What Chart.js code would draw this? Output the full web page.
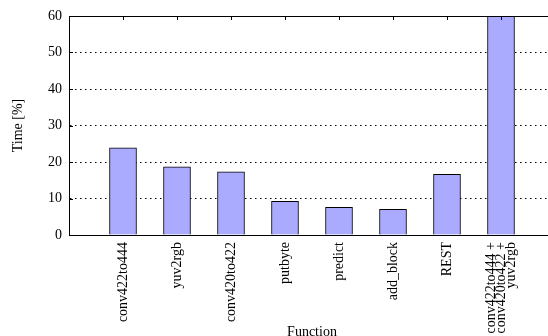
<!DOCTYPE html>
<html>
<head>
<meta charset="utf-8">
<script src="https://cdn.jsdelivr.net/npm/chart.js@4.4.1/dist/chart.umd.min.js"></script>
<style>
  html, body { margin: 0; padding: 0; overflow: hidden; background: #fff; }
  #wrap { width: 556px; height: 336px; }
</style>
</head>
<body>
<div id="wrap"><canvas id="mycanvas" width="556" height="336"></canvas></div>
<script>
// profile: share of run time per function
var functions = ['conv422to444', 'yuv2rgb', 'conv420to422', 'putbyte', 'predict', 'add_block', 'REST',
                 ['conv422to444 +', 'conv420to422 +', 'yuv2rgb']];
var timePct = [23.9, 18.7, 17.3, 9.2, 7.6, 7.0, 16.6, 60];
var yMin = 0, yMax = 60, yStep = 10;

// empty slot on each side so the bars sit at 1..8 of a 0..9 axis
var labels = [''].concat(functions, ['']);
var values = [null].concat(timePct, [null]);

var serif = { family: '"Liberation Serif", "Times New Roman", serif', size: 14 };
var labelLine = 10;

// top border plus the small inward tick marks
var frame = {
    id: 'frame',
    afterDatasetsDraw: function (chart) {
        var a = chart.chartArea, ctx = chart.ctx;
        var x = chart.scales.x, y = chart.scales.y;
        ctx.save();
        ctx.strokeStyle = '#000';
        ctx.lineWidth = 1;
        ctx.beginPath();
        ctx.moveTo(a.left, a.top + 0.5);
        ctx.lineTo(a.right, a.top + 0.5);
        ctx.moveTo(a.right - 0.5, a.top);
        ctx.lineTo(a.right - 0.5, a.bottom);
        for (var i = 1; i <= functions.length; i++) {
            var px = Math.round(x.getPixelForValue(i)) + 0.5;
            ctx.moveTo(px, a.top);
            ctx.lineTo(px, a.top + 4);
        }
        for (var v = yMin + yStep; v < yMax; v += yStep) {
            var py = Math.round(y.getPixelForValue(v)) + 0.5;
            ctx.moveTo(a.left, py);
            ctx.lineTo(a.left + 4, py);
        }
        ctx.stroke();
        ctx.restore();
    }
};

var chartdata = {
    labels: labels,
    datasets: [{
        label: 'Time',
        backgroundColor: '#aaaaff',
        borderColor: '#000',
        borderWidth: 1,
        barThickness: 27,
        data: values
    }]
};

var ctx = document.getElementById('mycanvas');

var barGraph = new Chart(ctx, {
    type: 'bar',
    data: chartdata,
    plugins: [frame],
    options: {
        responsive: false,
        animation: false,
        layout: { padding: { top: 16, right: 1, left: 0, bottom: 0 } },
        plugins: { legend: { display: false }, tooltip: { enabled: false } },
        scales: {
            x: {
                offset: false,
                grid: { display: false, drawTicks: false },
                border: { color: '#000', width: 1 },
                ticks: {
                    autoSkip: false,
                    minRotation: 90,
                    maxRotation: 90,
                    padding: 7,
                    color: '#000',
                    font: Object.assign({ lineHeight: labelLine / serif.size }, serif),
                    // rotated lines stack to the right of the tick: lead with a blank
                    // line and pull back one line so the middle one sits on the tick
                    labelOffset: -labelLine,
                    callback: function (value) {
                        var l = this.getLabelForValue(value);
                        return Array.isArray(l) ? l : ['', l];
                    }
                },
                title: {
                    display: true,
                    text: 'Function',
                    color: '#000',
                    font: Object.assign({ lineHeight: 1 }, serif),
                    padding: { top: 0, bottom: -3 }
                },
                afterFit: function (scale) {
                    scale.height = 101;
                    scale.paddingLeft = 0;
                    scale.paddingRight = 0;
                }
            },
            y: {
                min: yMin,
                max: yMax,
                grid: {
                    drawTicks: false,
                    color: function (c) {
                        return (c.tick.value === yMin || c.tick.value === yMax) ? 'rgba(0,0,0,0)' : '#000';
                    },
                    lineWidth: 1
                },
                border: { color: '#000', width: 1, dash: [1.5, 3.5] },
                ticks: {
                    stepSize: yStep,
                    padding: 7,
                    color: '#000',
                    font: serif
                },
                title: {
                    display: true,
                    text: 'Time [%]',
                    color: '#000',
                    font: Object.assign({ lineHeight: 1 }, serif),
                    padding: { top: 11, bottom: 0 }
                },
                afterFit: function (scale) {
                    scale.width = 69;
                    scale.paddingTop = 0;
                    scale.paddingBottom = 0;
                }
            }
        }
    }
});
</script>
</body>
</html>
